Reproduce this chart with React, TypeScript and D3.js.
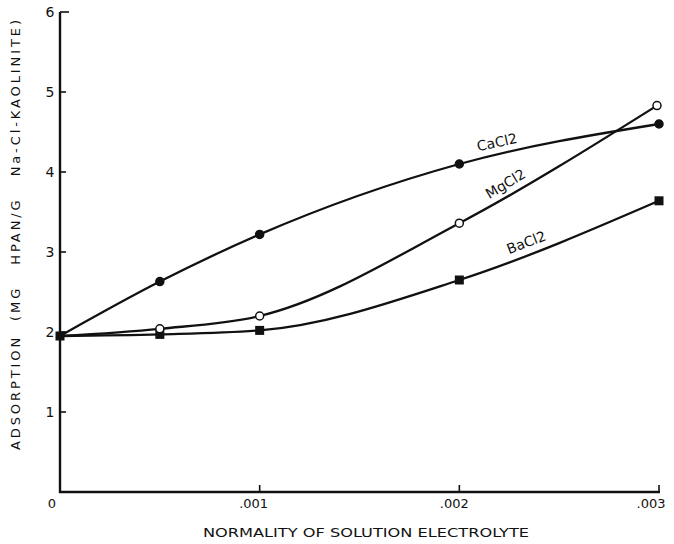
import { useEffect, useRef } from "react"
import * as d3 from "d3"

// normality values (x) and adsorption (y)
const caX = [0, 0.0005, 0.001, 0.002, 0.003]
const caY = [1.95, 2.63, 3.22, 4.1, 4.6]
const mgX = [0, 0.0005, 0.001, 0.002, 0.00299]
const mgY = [1.95, 2.04, 2.2, 3.36, 4.83]
const baX = [0, 0.0005, 0.001, 0.002, 0.003]
const baY = [1.95, 1.97, 2.02, 2.65, 3.64]

const yTicks = [1, 2, 3, 4, 5, 6]
const xTicks = [0, 0.001, 0.002, 0.003]
const xTickLabels = ["0", ".001", ".002", ".003"]

export default function App() {
  const svgRef = useRef<SVGSVGElement>(null)

  useEffect(() => {
    if (!svgRef.current) return
    const svg = d3.select(svgRef.current)
    svg.selectAll("*").remove()

    const x = d3.scaleLinear().domain([0, 0.003]).range([60, 659])
    const y = d3.scaleLinear().domain([0, 6]).range([492, 12])

    const font = "'DejaVu Sans', 'Liberation Sans', sans-serif"
    const ink = "#111"

    // axes
    const axis = svg.append("g").attr("stroke", ink).attr("fill", "none")
    axis.append("path")
      .attr("d", `M${x(0)},${y(6)} L${x(0)},${y(0)} L${x(0.003) + 1},${y(0)}`)
      .attr("stroke-width", 2.4)

    yTicks.forEach(t => {
      axis.append("line")
        .attr("x1", x(0)).attr("x2", x(0) + (t === 6 ? 9 : 6))
        .attr("y1", y(t)).attr("y2", y(t))
        .attr("stroke-width", 1.6)
    })
    xTicks.filter(t => t > 0).forEach(t => {
      axis.append("line")
        .attr("x1", x(t)).attr("x2", x(t))
        .attr("y1", y(0)).attr("y2", y(0) - 7)
        .attr("stroke-width", 1.6)
    })

    // tick labels
    svg.append("g").selectAll("text")
      .data(yTicks)
      .join("text")
      .attr("x", 50)
      .attr("y", d => y(d) + 5)
      .attr("text-anchor", "middle")
      .attr("font-family", font)
      .attr("font-size", 14)
      .attr("fill", ink)
      .text(d => String(d))

    const xLabelShift = [-8, -6, -5, -8]
    svg.append("g").selectAll("text")
      .data(xTicks)
      .join("text")
      .attr("x", (d, i) => x(d) + xLabelShift[i])
      .attr("y", 508)
      .attr("text-anchor", "middle")
      .attr("font-family", font)
      .attr("font-size", 13)
      .attr("fill", ink)
      .text((_d, i) => xTickLabels[i])

    // axis titles
    svg.append("text")
      .attr("x", 366)
      .attr("y", 537)
      .attr("text-anchor", "middle")
      .attr("font-family", font)
      .attr("font-size", 13)
      .attr("textLength", 326)
      .attr("lengthAdjust", "spacingAndGlyphs")
      .attr("fill", ink)
      .text("NORMALITY OF SOLUTION ELECTROLYTE")

    svg.append("text")
      .attr("transform", "translate(20,235) rotate(-90)")
      .attr("text-anchor", "middle")
      .attr("font-family", font)
      .attr("font-size", 13)
      .attr("textLength", 430)
      .attr("lengthAdjust", "spacing")
      .attr("fill", ink)
      .attr("xml:space", "preserve")
      .text("ADSORPTION  (MG   HPAN/G   Na-Cl-KAOLINITE)")

    // curves
    const line = d3.line<[number, number]>()
      .x(d => x(d[0]))
      .y(d => y(d[1]))
      .curve(d3.curveMonotoneX)

    const series = [
      { xs: caX, ys: caY, marker: "dot" },
      { xs: mgX, ys: mgY, marker: "open" },
      { xs: baX, ys: baY, marker: "square" },
    ]

    series.forEach(s => {
      const pts = s.xs.map((v, i) => [v, s.ys[i]] as [number, number])
      svg.append("path")
        .attr("d", line(pts))
        .attr("fill", "none")
        .attr("stroke", ink)
        .attr("stroke-width", 2.3)
    })

    // markers; draw squares first so open circles sit on top near the origin
    ;[series[2], series[0], series[1]].forEach(s => {
      const pts = s.xs.map((v, i) => [v, s.ys[i]] as [number, number])
      const g = svg.append("g")
      if (s.marker === "square") {
        g.selectAll("rect").data(pts).join("rect")
          .attr("x", d => x(d[0]) - 4.5)
          .attr("y", d => y(d[1]) - 4.5)
          .attr("width", 9).attr("height", 9)
          .attr("fill", ink)
      } else {
        g.selectAll("circle").data(pts.slice(1)).join("circle")
          .attr("cx", d => x(d[0]))
          .attr("cy", d => y(d[1]))
          .attr("r", 4)
          .attr("fill", s.marker === "dot" ? ink : "#fff")
          .attr("stroke", ink)
          .attr("stroke-width", 1.5)
      }
    })

    // curve labels
    const labels = [
      { text: "CaCl2", cx: 498, cy: 147, rot: -12 },
      { text: "MgCl2", cx: 508, cy: 188, rot: -31 },
      { text: "BaCl2", cx: 528, cy: 247, rot: -21 },
    ]
    svg.append("g").selectAll("text")
      .data(labels)
      .join("text")
      .attr("transform", d => `translate(${d.cx},${d.cy}) rotate(${d.rot})`)
      .attr("text-anchor", "middle")
      .attr("font-family", font)
      .attr("font-size", 14)
      .attr("fill", ink)
      .text(d => d.text)
  }, [])

  return (
    <svg
      ref={svgRef}
      width={674}
      height={544}
      style={{ position: "absolute", left: 0, top: 0, background: "#fff" }}
    />
  )
}
